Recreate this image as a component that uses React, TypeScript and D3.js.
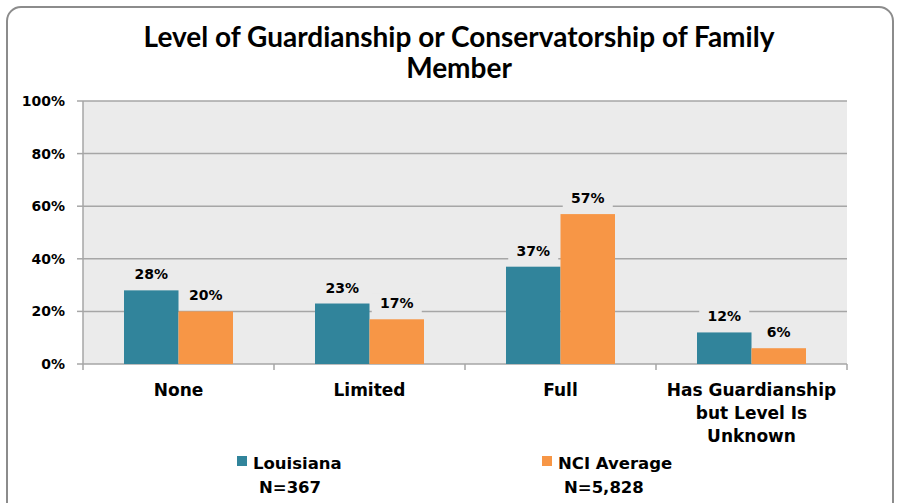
import React from "react";
import * as d3 from "d3";

const categories = ["None", "Limited", "Full", "Has Guardianship|but Level Is|Unknown"];
const louisiana = [28, 23, 37, 12];
const nciAverage = [20, 17, 57, 6];
const seriesNames = ["Louisiana", "NCI Average"];
const seriesN = ["N=367", "N=5,828"];
const yTicks = [0, 20, 40, 60, 80, 100];

const W = 900, H = 503;
const L = 83, R = 847, T = 101, B = 364;
const colors = ["#31849b", "#f79646"];
const plotBg = "#ebebeb";
const font = "'DejaVu Sans', Verdana, sans-serif";

export default function App() {
  const x = d3.scaleBand<string>().domain(categories).range([L, R]);
  const y = d3.scaleLinear().domain([0, 100]).range([B, T]);
  const barW = 54.5;
  const series = [louisiana, nciAverage];
  return (
    <svg width={W} height={H} style={{ position: "absolute", left: 0, top: 0 }}>
      <rect x={0} y={0} width={W} height={H} fill="#fff" />
      <rect x={7} y={7} width={886} height={510} rx={14} fill="#fff" stroke="#8c8c8c" strokeWidth={2} />
      <text x={459} y={47} textAnchor="middle" fontFamily="Lato, sans-serif" fontWeight="bold" fontSize={28} fill="#000">
        Level of Guardianship or Conservatorship of Family
      </text>
      <text x={459} y={78} textAnchor="middle" fontFamily="Lato, sans-serif" fontWeight="bold" fontSize={28} fill="#000">
        Member
      </text>
      <rect x={L} y={T} width={R - L} height={B - T} fill={plotBg} />
      {yTicks.map((t) => (
        <g key={t}>
          {t > 0 && <line x1={L} x2={R} y1={y(t)} y2={y(t)} stroke="#a6a6a6" strokeWidth={1.5} />}
          <line x1={L - 6} x2={L} y1={y(t)} y2={y(t)} stroke="#a6a6a6" strokeWidth={1.5} />
          <text x={65} y={y(t) + 5} textAnchor="end" fontFamily={font} fontWeight="bold" fontSize={14} fill="#000">
            {t}%
          </text>
        </g>
      ))}
      <line x1={L} x2={L} y1={T} y2={B} stroke="#a6a6a6" strokeWidth={1.5} />
      <line x1={L} x2={R} y1={B} y2={B} stroke="#a6a6a6" strokeWidth={1.5} />
      {categories.map((c, i) => (
        <line key={"tk" + i} x1={(x(c) as number) + x.bandwidth()} x2={(x(c) as number) + x.bandwidth()} y1={B} y2={B + 6} stroke="#a6a6a6" strokeWidth={1.5} />
      ))}
      <line x1={L} x2={L} y1={B} y2={B + 6} stroke="#a6a6a6" strokeWidth={1.5} />
      {categories.map((c, i) => {
        const cx = (x(c) as number) + x.bandwidth() / 2;
        return series.map((s, si) => {
          const bx = cx - barW + si * barW;
          const v = s[i];
          return (
            <g key={c + si}>
              <rect x={bx} y={y(v)} width={barW} height={B - y(v)} fill={colors[si]} />
            </g>
          );
        });
      })}
      {categories.map((c, i) => {
        const cx = (x(c) as number) + x.bandwidth() / 2;
        return series.map((s, si) => {
          const lx = cx - barW / 2 + si * barW;
          const v = s[i];
          const ty = y(v) - 11;
          return (
            <g key={"l" + c + si}>
              <rect x={lx - 25} y={ty - 15} width={50} height={20} fill={plotBg} />
              <text x={lx} y={ty} textAnchor="middle" fontFamily={font} fontWeight="bold" fontSize={14} fill="#000">
                {v}%
              </text>
            </g>
          );
        });
      })}
      {categories.map((c) => {
        const cx = (x(c) as number) + x.bandwidth() / 2;
        return c.split("|").map((line, li) => (
          <text key={c + li} x={cx} y={396 + li * 23} textAnchor="middle" fontFamily={font} fontWeight="bold" fontSize={17} fill="#000">
            {line}
          </text>
        ));
      })}
      {seriesNames.map((n, si) => {
        const lx = si === 0 ? 237 : 542;
        return (
          <g key={n}>
            <rect x={lx} y={456} width={10} height={10} fill={colors[si]} />
            <text x={lx + 16} y={469} fontFamily={font} fontWeight="bold" fontSize={16.5} fill="#000">{n}</text>
            <text x={lx + 22} y={493} fontFamily={font} fontWeight="bold" fontSize={16.5} fill="#000">{seriesN[si]}</text>
          </g>
        );
      })}
    </svg>
  );
}
